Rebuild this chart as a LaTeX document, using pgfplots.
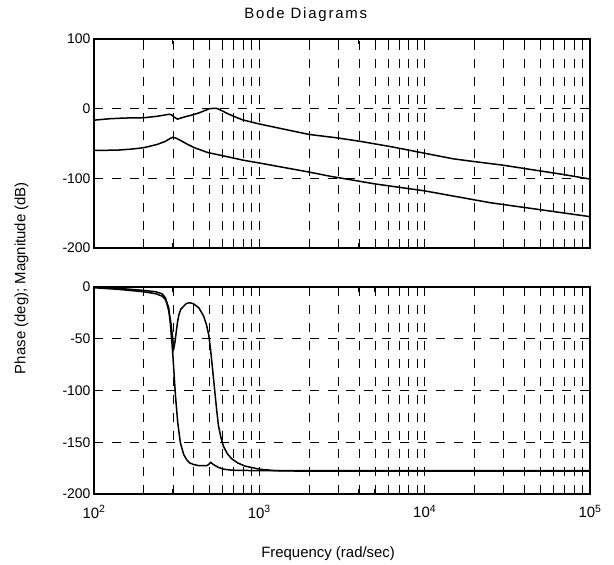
\documentclass[border=0pt]{standalone}
\usepackage{fontspec}
\setmainfont{Liberation Sans}
\usepackage{pgfplots}
\pgfplotsset{compat=1.18}

\pgfplotstableread{
f v
100 -16.5
124 -14.5
150 -13.5
200 -13
240 -11
270 -9
285 -8
295 -9
305 -12
320 -15
340 -13
371 -10.5
400 -8.5
438 -5.5
470 -2.5
500 0
540 0.5
560 0
600 -3.5
641 -7
700 -11
790 -16
1000 -22
1380 -29
2000 -37
2970 -42
4100 -47
6400 -55
10000 -64
14900 -72
20000 -76
29500 -81
43000 -87
67000 -94
100000 -101
}\magA

\pgfplotstableread{
f v
100 -60
139 -59.5
170 -58
200 -56
240 -51.5
270 -47
290 -42.5
300 -41
315 -42.5
333 -45.5
370 -51.5
404 -56
450 -60
488 -63
560 -66
641 -69
800 -74
1000 -78
2000 -91
2680 -97
5000 -108
10000 -118
24900 -135
50000 -145
100000 -155
}\magB

\pgfplotstableread{
f v
100 -0.7
141 -2.3
200 -4.6
236 -6.5
258 -8.8
270 -12
277 -17
284 -24
290 -32
297 -45
304 -59
309 -53
314 -44
320 -34
326 -27
335 -21.5
349 -18.5
362 -16
374 -15.3
387 -15.5
400 -16.3
430 -20
460 -28
478 -36
494 -46
505 -58
516 -72
528 -88
541 -105
553 -120
566 -134
585 -145
607 -154
640 -161
681 -166
740 -170
818 -173
1000 -176
1250 -177.5
2000 -178
100000 -178
}\phA

\pgfplotstableread{
f v
100 0
141 -1.3
200 -3.3
236 -4.6
258 -6.5
270 -10.4
283 -20
290 -36.5
300 -66
311 -105
321 -131
333 -150.5
349 -162
364 -167
379 -170
400 -171.5
430 -172.6
482 -172.6
497 -171
508 -169.4
522 -171
541 -172.6
570 -174.5
607 -176
681 -177
1000 -177.5
100000 -177.5
}\phB

\begin{document}
\begin{tikzpicture}
\useasboundingbox (0,0) rectangle (614bp,565bp);
\begin{axis}[
  xmode=log, xmin=100, xmax=100000,
  scale only axis, width=496bp,
  xtick={100,1000,10000,100000},
  minor xtick={200,300,400,500,600,700,800,900,2000,3000,4000,5000,6000,7000,8000,9000,20000,30000,40000,50000,60000,70000,80000,90000},
  grid=both,
  major grid style={black, line width=0.7bp, dash pattern=on 9bp off 9bp},
  minor grid style={black, line width=0.7bp, dash pattern=on 9bp off 9bp},
  axis line style={black, line width=1.3bp},
  every tick/.style={black, line width=0.8bp},
  major tick length=5bp, minor tick length=5bp,
  tick label style={font=\fontsize{14}{16}\selectfont},
  at={(94bp,317bp)}, anchor=south west, height=209bp,
  ymin=-200, ymax=100,
  ytick={-200,-100,0,100}, yticklabels={-200,-100,0,100},
  xticklabels={},
  title={Bode Diagrams},
  title style={at={(axis description cs:0.427,1.086)}, anchor=center,
    font=\fontsize{15}{18}\selectfont\addfontfeature{LetterSpace=12}},
]
\addplot[black, line width=1.5bp] table[x=f,y=v] {\magA};
\addplot[black, line width=1.5bp] table[x=f,y=v] {\magB};
\end{axis}
\begin{axis}[
  xmode=log, xmin=100, xmax=100000,
  scale only axis, width=496bp,
  xtick={100,1000,10000,100000},
  minor xtick={200,300,400,500,600,700,800,900,2000,3000,4000,5000,6000,7000,8000,9000,20000,30000,40000,50000,60000,70000,80000,90000},
  grid=both,
  major grid style={black, line width=0.7bp, dash pattern=on 9bp off 9bp},
  minor grid style={black, line width=0.7bp, dash pattern=on 9bp off 9bp},
  axis line style={black, line width=1.3bp},
  every tick/.style={black, line width=0.8bp},
  major tick length=5bp, minor tick length=5bp,
  tick label style={font=\fontsize{14}{16}\selectfont},
  xticklabel style={yshift=-8bp, font=\fontsize{15}{17}\selectfont},
  at={(94bp,71bp)}, anchor=south west, height=207bp,
  ymin=-200, ymax=0,
  ytick={-200,-150,-100,-50,0}, yticklabels={-200,-150,-100,-50,0},
  xticklabels={10\textsuperscript{2},10\textsuperscript{3},10\textsuperscript{4},10\textsuperscript{5}},
  xlabel={Frequency (rad/sec)},
  xlabel style={at={(axis description cs:0.472,-0.29)}, anchor=center,
    font=\fontsize{15}{18}\selectfont},
  ylabel={Phase (deg); Magnitude (dB)},
  ylabel style={at={(axis description cs:-0.146,1.043)}, anchor=center,
    font=\fontsize{15}{18}\selectfont},
]
\addplot[black, line width=1.5bp] table[x=f,y=v] {\phA};
\addplot[black, line width=1.5bp] table[x=f,y=v] {\phB};
\end{axis}
\end{tikzpicture}
\end{document}
